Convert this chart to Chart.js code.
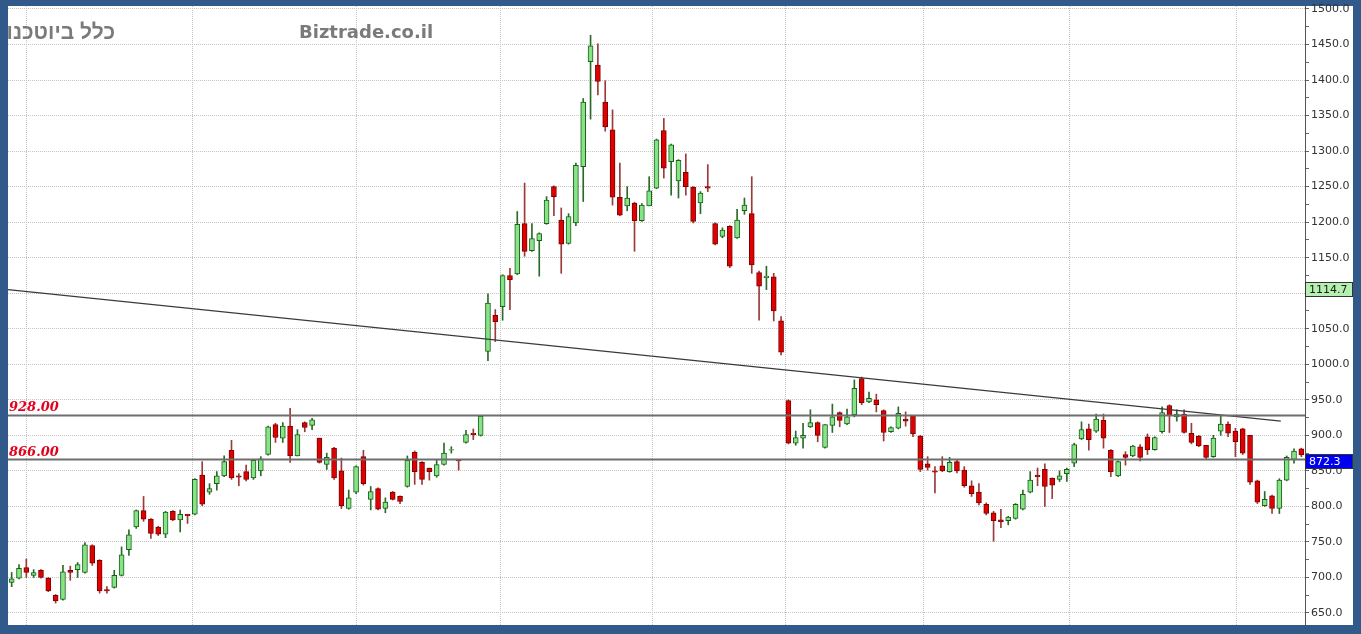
<!DOCTYPE html>
<html>
<head>
<meta charset="utf-8">
<script src="https://cdn.jsdelivr.net/npm/chart.js"></script>
<style>
  html, body { margin: 0; padding: 0; background: #31598a; }
  #wrap { width: 1361px; height: 634px; }
</style>
</head>
<body>
<div id="wrap"><canvas id="myChart" width="1361" height="634"></canvas></div>
<script>
// daily candles
const opens  = [693,699,714,703,710,699,675,669,710,711,707,745,724,683,686,703,739,771,794,782,771,761,793,781,789,789,844,820,832,843,879,843,849,840,850,873,915,896,913,871,918,914,896,859,882,850,797,820,870,810,825,797,820,814,828,876,862,854,843,859,879,866,890,903,900,1018,1069,1081,1125,1127,1198,1160,1174,1198,1250,1203,1170,1199,1278,1426,1421,1369,1330,1235,1223,1227,1202,1223,1248,1329,1285,1258,1270,1249,1227,1250,1198,1180,1194,1178,1216,1212,1129,1122,1123,1061,949,889,896,912,918,883,914,932,916,929,980,947,950,935,905,910,923,927,899,860,850,857,849,863,851,829,820,803,791,781,780,783,796,820,844,852,840,838,846,861,895,909,906,921,879,843,873,871,884,898,880,905,942,926,930,903,899,886,870,906,916,906,909,900,836,801,815,797,837,866,881];
const highs  = [707,718,726,711,711,700,676,717,716,721,749,746,725,687,710,743,767,795,814,783,772,793,794,795,789,839,863,832,849,871,893,846,858,866,870,913,917,918,938,908,919,924,896,875,883,868,823,857,879,828,826,812,821,815,871,878,863,854,865,889,884,866,907,909,927,1099,1077,1126,1135,1215,1255,1198,1185,1236,1251,1220,1212,1283,1374,1463,1451,1399,1358,1283,1250,1228,1226,1264,1317,1346,1310,1288,1296,1250,1243,1281,1199,1192,1195,1218,1234,1264,1131,1138,1128,1067,950,906,917,936,919,915,944,933,937,978,982,961,958,936,912,940,933,928,900,870,856,870,869,866,856,836,832,805,793,796,786,804,823,849,854,860,840,850,854,889,919,916,930,930,880,864,877,886,887,902,898,940,943,936,936,917,900,886,900,928,919,910,910,900,837,821,816,839,871,881,882];
const lows   = [687,698,700,700,699,680,664,668,696,700,706,717,678,678,685,702,731,769,779,755,759,756,780,764,776,788,801,817,823,842,838,829,836,838,843,872,890,890,862,871,905,908,861,852,838,797,796,818,830,795,795,791,809,804,827,831,831,837,841,858,875,851,889,894,899,1005,1032,1062,1077,1126,1152,1159,1124,1197,1209,1128,1169,1195,1229,1345,1379,1328,1224,1209,1216,1159,1201,1223,1247,1262,1238,1234,1238,1199,1212,1243,1168,1178,1136,1177,1211,1128,1062,1105,1061,1013,888,886,882,911,891,882,904,912,915,926,943,946,933,892,904,909,913,898,849,851,819,849,848,847,827,814,802,788,751,770,774,782,795,819,829,800,811,835,835,856,894,879,904,882,842,842,858,870,864,873,879,903,904,920,903,888,884,866,869,900,898,870,873,831,804,800,790,790,836,861,870];
const closes = [698,713,707,707,700,681,667,708,707,718,746,720,681,681,703,732,760,794,782,762,761,792,781,789,787,838,803,825,843,863,840,841,838,865,867,912,897,913,871,901,911,922,862,869,840,801,812,856,832,821,796,806,810,807,865,849,838,849,859,875,880,864,901,901,927,1086,1060,1125,1119,1197,1159,1177,1184,1231,1236,1169,1208,1280,1369,1448,1398,1334,1235,1210,1234,1202,1224,1244,1316,1276,1309,1287,1250,1201,1241,1248,1169,1189,1138,1203,1224,1140,1110,1124,1075,1017,889,897,900,918,900,915,926,921,926,966,946,952,943,904,911,931,920,902,852,855,848,850,862,850,829,818,805,790,780,778,785,803,817,837,842,828,830,843,852,887,908,894,923,896,849,863,869,885,869,880,897,932,928,930,904,890,885,869,896,916,903,891,875,834,806,810,797,837,869,878,872.3];

// month gridlines (candle index), support levels, trend line
const monthTicks = [2, 24.7, 47, 66.7, 87.5, 105.6, 124.5, 144.3, 167.2];
const levels = [928, 866];
const trendIdx = [-0.5, 173.2];
const trendVal = [1105, 920];
const markerValue = 1114.7;

const idx = opens.map((o, i) => i);
const isUp = i => closes[i] >= opens[i];

const bodies = idx.map(i => ({x: i, y: [opens[i], closes[i]]}));
const wicks = idx.map(i => ({x: i, y: [lows[i], highs[i]]}));

const lineSet = (xs, ys, color, w) => ({
  type: 'line',
  data: xs.map((x, k) => ({x: x, y: ys[k]})),
  borderColor: color,
  borderWidth: w,
  pointRadius: 0,
  order: 0
});

const framePlugin = {
  id: 'frame',
  beforeDraw(chart) {
    const ctx = chart.ctx;
    ctx.save();
    ctx.fillStyle = '#31598a';
    ctx.fillRect(0, 0, chart.width, chart.height);
    ctx.fillStyle = '#ffffff';
    ctx.fillRect(8, 6, 1345, 619);
    ctx.restore();
  },
  beforeDatasetsDraw(chart) {
    const ctx = chart.ctx;
    const a = chart.chartArea;
    const y = chart.scales.y;
    ctx.save();
    ctx.beginPath();
    ctx.rect(a.left, a.top, a.right - a.left, a.bottom - a.top);
    ctx.clip();
    // titles
    ctx.fillStyle = '#7a7a7a';
    ctx.textBaseline = 'middle';
    ctx.textAlign = 'right';
    ctx.font = 'bold 21px "Liberation Sans", "DejaVu Sans"';
    ctx.fillText('כלל ביוטכנו', 115, 33);
    ctx.textAlign = 'left';
    ctx.font = 'bold 18px "DejaVu Sans"';
    ctx.fillText('Biztrade.co.il', 299, 33);
    // level labels
    ctx.fillStyle = '#e3001b';
    ctx.textBaseline = 'alphabetic';
    ctx.font = 'italic bold 13px "DejaVu Serif"';
    levels.forEach(v => {
      ctx.fillText(v.toFixed(2), 9, y.getPixelForValue(v) - 4);
    });
    ctx.restore();
  },
  afterDraw(chart) {
    const ctx = chart.ctx;
    const y = chart.scales.y;
    const box = (v, bg, fg) => {
      const top = Math.round(y.getPixelForValue(v)) - 0.5;
      ctx.fillStyle = bg;
      ctx.fillRect(1306, top, 46, 14);
      ctx.strokeStyle = '#333';
      ctx.lineWidth = 1;
      ctx.strokeRect(1305.5, top, 47, 14);
      ctx.fillStyle = fg;
      ctx.font = '11px "DejaVu Sans"';
      ctx.textBaseline = 'middle';
      ctx.textAlign = 'left';
      ctx.fillText(v.toFixed(1), 1309, top + 7.5);
    };
    ctx.save();
    box(markerValue, '#b6f0b0', '#1a1a1a');
    box(closes[closes.length - 1], '#0000f0', '#ffffff');
    ctx.restore();
  }
};

var config = {
  type: 'bar',
  data: {
    datasets: [
      lineSet([-0.5, 176.5], [levels[0], levels[0]], '#6e6e6e', 2),
      lineSet([-0.5, 176.5], [levels[1], levels[1]], '#6e6e6e', 2),
      lineSet(trendIdx, trendVal, '#3a3a3a', 1.2),
      {
        label: 'body',
        data: bodies,
        barThickness: 5,
        grouped: false,
        borderWidth: 1,
        borderSkipped: false,
        backgroundColor: c => isUp(c.dataIndex) ? '#86e486' : '#df0000',
        borderColor: c => isUp(c.dataIndex) ? '#1a5e1a' : '#7c0000',
        order: 1
      },
      {
        label: 'wick',
        data: wicks,
        barThickness: 1,
        grouped: false,
        borderWidth: 0,
        backgroundColor: c => isUp(c.dataIndex) ? '#2a6a2a' : '#9a3a3a',
        order: 2
      }
    ]
  },
  options: {
    responsive: false,
    devicePixelRatio: 1,
    animation: false,
    layout: { padding: { left: 8, top: 6, right: 8, bottom: 9 } },
    plugins: {
      legend: { display: false },
      tooltip: { enabled: false },
      title: { display: false }
    },
    scales: {
      x: {
        type: 'linear',
        min: -0.5,
        max: 176.5,
        offset: false,
        afterBuildTicks: s => { s.ticks = monthTicks.map(v => ({value: v})); },
        afterFit: s => { s.height = 0; s.paddingLeft = 0; s.paddingRight = 0; },
        ticks: { display: false },
        grid: { color: '#c4c4c4', drawTicks: false, offset: false },
        border: { display: false, dash: [1, 1] }
      },
      y: {
        position: 'right',
        min: 633.1,
        max: 1504.2,
        afterBuildTicks: s => {
          const t = [];
          for (let v = 650; v <= 1500; v += 25) t.push({value: v});
          s.ticks = t;
        },
        afterFit: s => { s.width = 48; s.paddingTop = 0; s.paddingBottom = 0; },
        ticks: {
          autoSkip: false,
          padding: 2,
          color: '#333',
          font: { family: 'DejaVu Sans', size: 11 },
          callback: v => v % 50 === 0 ? v.toFixed(1) : ''
        },
        grid: {
          color: c => c.tick && c.tick.value % 50 === 0 ? '#c4c4c4' : 'rgba(0,0,0,0)',
          tickColor: '#666',
          tickLength: 4
        },
        border: { display: true, color: '#555', width: 1, dash: [1, 1] }
      }
    }
  },
  plugins: [framePlugin]
};

var myChart = new Chart(document.getElementById('myChart'), config);
</script>
</body>
</html>
